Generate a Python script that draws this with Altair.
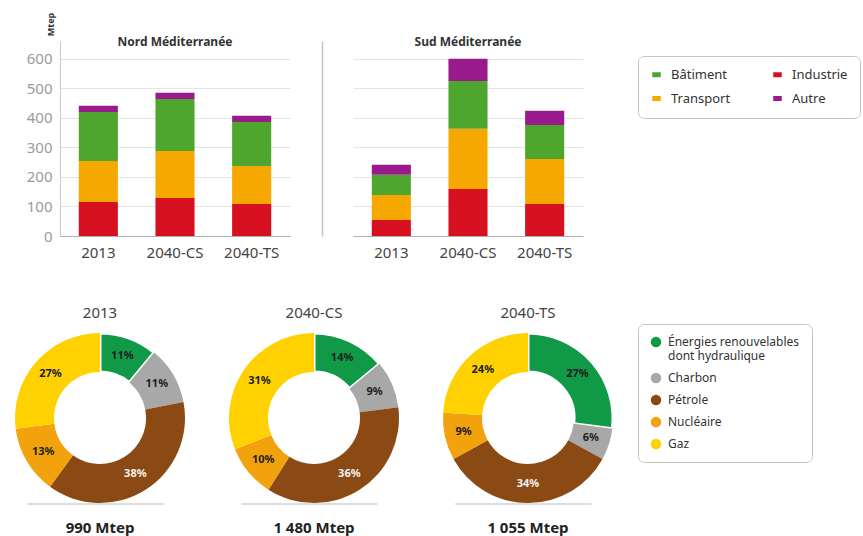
import altair as alt
import pandas as pd

# ---------------- data ----------------
scenarios = ["2013", "2040-CS", "2040-TS"]
regions = ["Nord", "Sud"]
region_titles = ["Nord Méditerranée", "Sud Méditerranée"]

sectors = ["Bâtiment", "Transport", "Industrie", "Autre"]          # legend order (column-major)
sector_colors = ["#4fa62f", "#f7a800", "#d7101f", "#9a1a8c"]
sector_stack = ["Industrie", "Transport", "Bâtiment", "Autre"]     # bottom -> top

nord_industrie = [115, 129, 108]
nord_transport = [139, 159, 129]
nord_batiment = [166, 176, 149]
nord_autre = [21, 21, 21]

sud_industrie = [54, 159, 108]
sud_transport = [85, 204, 153]
sud_batiment = [68, 162, 115]
sud_autre = [34, 75, 48]

y_ticks = [0, 100, 200, 300, 400, 500, 600]

sources = ["Énergies renouvelables dont hydraulique", "Charbon", "Pétrole", "Nucléaire", "Gaz"]
source_colors = ["#109a48", "#a8a8a8", "#8b4a14", "#f2a20c", "#ffd100"]
pct_2013 = [11, 11, 38, 13, 27]
pct_cs = [14, 9, 36, 10, 31]
pct_ts = [27, 6, 34, 9, 24]
totals = ["990 Mtep", "1 480 Mtep", "1 055 Mtep"]

# ---------------- tables ----------------
rows = []
for region, series in [
    ("Nord", {"Industrie": nord_industrie, "Transport": nord_transport,
              "Bâtiment": nord_batiment, "Autre": nord_autre}),
    ("Sud", {"Industrie": sud_industrie, "Transport": sud_transport,
             "Bâtiment": sud_batiment, "Autre": sud_autre}),
]:
    for i, sc in enumerate(scenarios):
        for sec, vals in series.items():
            rows.append(dict(region=region, scenario=sc, sector=sec,
                             value=vals[i], ord=sector_stack.index(sec)))
df_bar = pd.DataFrame(rows)

FONT = "Noto Sans"

bar_legend = alt.Legend(
    orient="none", legendX=578, legendY=15, columns=2, title=None,
    symbolType="M-0.85,-0.5H0.85V0.5H-0.85Z", symbolSize=100, symbolStrokeWidth=0,
    labelFontSize=13, labelColor="#333", labelOffset=8, columnPadding=40,
    rowPadding=10, padding=12, strokeColor="#c4c4c4", cornerRadius=6,
    fillColor="white", labelFont=FONT,
)


def bar_panel(region, title, first):
    if first:
        yaxis = alt.Axis(values=y_ticks, grid=True, gridColor="#e4e4e4", ticks=False,
                         domainColor="#c8c8c8", labelColor="#9a9a9a", labelFontSize=15,
                         labelPadding=8, title="Mtep", titleAngle=270, titleFontSize=9,
                         titleFontWeight="bold", titleColor="#333", titleX=-10, titleY=-17,
                         titleAlign="center", titleBaseline="middle")
    else:
        yaxis = alt.Axis(values=y_ticks, grid=True, gridColor="#e4e4e4", ticks=False,
                         labels=False, title=None, domainColor="#c4c4c4", domainWidth=1.5,
                         offset=31)
    bars = (
        alt.Chart(df_bar)
        .transform_filter(alt.datum.region == region)
        .mark_bar()
        .encode(
            x=alt.X("scenario:N", sort=scenarios,
                    scale=alt.Scale(paddingInner=0.49, paddingOuter=0.245),
                    axis=alt.Axis(title=None, labelAngle=0, ticks=False, domainColor="#b0b0b0",
                                  labelColor="#444", labelFontSize=15, labelPadding=9)),
            y=alt.Y("value:Q", stack="zero", scale=alt.Scale(domain=[0, 660], nice=False),
                    axis=yaxis),
            color=alt.Color("sector:N", scale=alt.Scale(domain=sectors, range=sector_colors),
                            legend=bar_legend),
            order=alt.Order("ord:Q"),
        )
    )
    head = alt.Chart(pd.DataFrame({"t": [title]})).mark_text(
        fontSize=12, fontWeight="bold", color="#333", font=FONT, baseline="middle"
    ).encode(text="t:N", x=alt.value(115), y=alt.value(1))
    return alt.layer(bars, head).properties(width=230, height=195)


donut_legend = alt.Legend(
    orient="none", legendX=578, legendY=-9, title=None, symbolType="circle",
    symbolSize=110, symbolStrokeWidth=0, labelFontSize=12, labelColor="#333",
    labelOffset=6, rowPadding=10, padding=12, strokeColor="#c4c4c4", cornerRadius=6,
    fillColor="white", labelFont=FONT,
    labelExpr="datum.label == 'Énergies renouvelables dont hydraulique' ? "
              "['Énergies renouvelables', 'dont hydraulique'] : datum.label",
)


def donut(sc, pcts, total):
    d = pd.DataFrame({"source": sources, "pct": pcts, "ord": list(range(len(sources))),
                      "label": [f"{p}%" for p in pcts]})
    base = alt.Chart(d).encode(theta=alt.Theta("pct:Q", stack=True), order=alt.Order("ord:Q"))
    shadow = alt.Chart(pd.DataFrame({"t": [sc]})).mark_rule(
        color="#dedede", strokeWidth=2, strokeCap="round"
    ).encode(x=alt.value(-32), x2=alt.value(103), y=alt.value(171))
    arcs = base.mark_arc(radius=85, innerRadius=46, stroke="white").encode(
        color=alt.Color("source:N", scale=alt.Scale(domain=sources, range=source_colors),
                        legend=donut_legend),
        strokeWidth=alt.condition(alt.datum.source == sources[0], alt.value(3), alt.value(0)),
    )
    labels = base.mark_text(radius=66, fontSize=11, fontWeight="bold", font=FONT).encode(
        text="label:N",
        color=alt.condition(alt.datum.source == "Pétrole", alt.value("#f2f2f2"),
                            alt.value("#1e1e1e")),
    )
    head = alt.Chart(pd.DataFrame({"t": [sc]})).mark_text(
        fontSize=15, color="#444", font=FONT, baseline="middle"
    ).encode(text="t:N", x=alt.value(40), y=alt.value(-20))
    tot = alt.Chart(pd.DataFrame({"t": [total]})).mark_text(
        fontSize=15, fontWeight="bold", color="#222", font=FONT, baseline="middle"
    ).encode(text="t:N", x=alt.value(40), y=alt.value(195))
    return alt.layer(shadow, arcs, labels, head, tot).properties(width=80, height=170)


top = alt.hconcat(bar_panel(regions[0], region_titles[0], True),
                  bar_panel(regions[1], region_titles[1], False),
                  spacing=63, bounds="flush")
bottom = alt.hconcat(donut(scenarios[0], pct_2013, totals[0]),
                     donut(scenarios[1], pct_cs, totals[1]),
                     donut(scenarios[2], pct_ts, totals[2]),
                     spacing=134, bounds="flush")

# nested flush rows count as zero height, so the spacing spans the bar row (195) + gap
chart = (
    alt.vconcat(top, bottom, spacing=292, bounds="flush")
    .resolve_scale(color="independent")
    .properties(padding={"left": 15, "top": 12, "right": 0, "bottom": 0})
    .configure(font=FONT)
    .configure_view(stroke=None)
)

chart.save("out.html", embed_options={"renderer": "svg", "actions": False})
